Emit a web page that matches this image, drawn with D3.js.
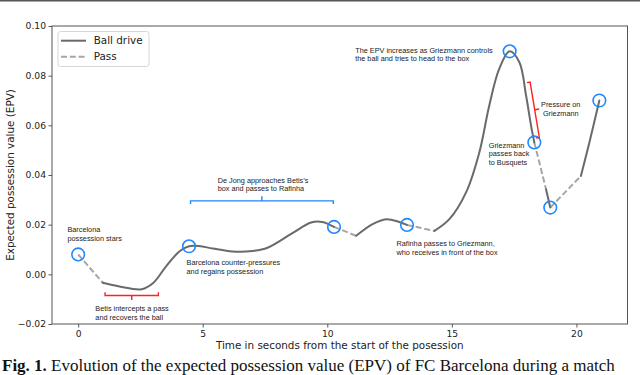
<!DOCTYPE html>
<html>
<head>
<meta charset="utf-8">
<script src="https://cdn.jsdelivr.net/npm/d3@7"></script>
<style>
    html, body { margin: 0; padding: 0; background: #fff; }
    svg { display: block; }
</style>
</head>
<body>
<div id="chart"></div>
<script>
// ===========================
// EPV of one Barcelona possession — ball drives (solid) and passes (dashed)
// ===========================

// ── Data (time in seconds, EPV) ───────────────────────────────────────────────
const driveSegments = [
    [[0.99, -0.0034], [1.66, -0.0049], [2.55, -0.006], [3.0, -0.0036], [3.53, 0.0032], [4.07, 0.0093],
     [4.45, 0.0113], [4.85, 0.0114], [5.4, 0.0104], [6.2, 0.0092], [7.0, 0.0094], [7.6, 0.0107],
     [8.6, 0.0166], [9.35, 0.0209], [9.8, 0.0211], [10.27, 0.0191]],
    [[11.16, 0.0155], [11.82, 0.0202], [12.36, 0.0222], [12.89, 0.0211], [13.2, 0.0199]],
    [[14.3, 0.0175], [14.9, 0.0222], [15.57, 0.033], [16.1, 0.049], [16.5, 0.0679], [16.9, 0.0827],
     [17.32, 0.0898], [17.71, 0.0854], [17.98, 0.0719], [18.18, 0.0598], [18.31, 0.0531]],
    [[18.78, 0.0343], [18.95, 0.0269]],
    [[20.18, 0.0396], [20.52, 0.0531], [20.92, 0.070]]
];

const passSegments = [
    [[0, 0.008], [0.99, -0.0034]],
    [[10.27, 0.0191], [11.16, 0.0155]],
    [[13.2, 0.0199], [14.3, 0.0175]],
    [[18.31, 0.0531], [18.78, 0.0343]],
    [[18.95, 0.0269], [20.18, 0.0396]]
];

const eventTimes  = [0, 4.45, 10.27, 13.2, 17.32, 18.31, 18.95, 20.92];
const eventValues = [0.008, 0.0113, 0.0191, 0.0199, 0.0898, 0.0531, 0.0269, 0.070];

const xTicks = [0, 5, 10, 15, 20];
const yTicks = [-0.02, 0.00, 0.02, 0.04, 0.06, 0.08, 0.10];

// Text notes: lines, anchor point (time, EPV of first line), alignment
const noteLines = [
    ['Barcelona', 'possession stars'],
    ['Betis intercepts a pass', 'and recovers the ball'],
    ['Barcelona counter-pressures', 'and regains possession'],
    ['De Jong approaches Betis\u2019s', 'box and passes to Rafinha'],
    ['Rafinha passes to Griezmann,', 'who receives in front of the box'],
    ['The EPV increases as Griezmann controls', 'the ball and tries to head to the box'],
    ['Griezmann', 'passes back', 'to Busquets'],
    ['Pressure on', 'Griezmann']
];
const noteTimes  = [-0.43, 0.69, 4.35, 5.6, 12.78, 11.12, 16.48, 19.37];
const noteValues = [0.0179, -0.0137, 0.0047, 0.0380, 0.0124, 0.0903, 0.0521, 0.0685];
const noteAnchor = ['start', 'start', 'start', 'start', 'start', 'start', 'start', 'middle'];

// Brackets: start / end (time, EPV), colour, side of the end ticks
const bracketStart = [[1.08, -0.0085], [4.51, 0.0296], [18.14, 0.0774]];
const bracketEnd   = [[3.22, -0.0085], [10.24, 0.0296], [18.51, 0.0551]];
const bracketColor = ['#ff2020', '#1e88ff', '#ff2020'];
const bracketSide  = [-1, 1, 1];

// ── Layout ────────────────────────────────────────────────────────────────────
const width = 640, height = 375;
const plot = { left: 52, right: 627.5, top: 26, bottom: 324 };

const svg = d3.select('#chart')
    .append('svg')
    .attr('width', width)
    .attr('height', height);

// rule at top edge of the page crop
svg.append('rect')
    .attr('x', 0).attr('y', 0)
    .attr('width', width).attr('height', 1.5)
    .attr('fill', '#555');

// ── Scales ────────────────────────────────────────────────────────────────────
const xScale = d3.scaleLinear().domain([-1.05, 22.05]).range([plot.left, plot.right]);
const yScale = d3.scaleLinear().domain([-0.02, 0.10]).range([plot.bottom, plot.top]);

// ── Axes ──────────────────────────────────────────────────────────────────────
const axisFont = 'DejaVu Sans, sans-serif';

const xAxis = svg.append('g')
    .attr('transform', `translate(0,${plot.bottom})`)
    .call(d3.axisBottom(xScale).tickValues(xTicks).tickSize(3.5).tickPadding(3).tickFormat(d3.format('d')));

const yAxis = svg.append('g')
    .attr('transform', `translate(${plot.left},0)`)
    .call(d3.axisLeft(yScale).tickValues(yTicks).tickSize(3.5).tickPadding(2.5).tickFormat(d3.format('.2f')));

[xAxis, yAxis].forEach(ax => {
    ax.select('.domain').remove();
    ax.selectAll('line').attr('stroke', '#444').attr('stroke-width', 0.9);
    ax.selectAll('text')
        .style('font-family', axisFont)
        .style('font-size', '9.2px')
        .attr('fill', '#222');
});

// frame
svg.append('rect')
    .attr('x', plot.left).attr('y', plot.top)
    .attr('width', plot.right - plot.left)
    .attr('height', plot.bottom - plot.top)
    .attr('fill', 'none')
    .attr('stroke', '#555')
    .attr('stroke-width', 1);

svg.append('text')
    .attr('x', (plot.left + plot.right) / 2)
    .attr('y', 349)
    .attr('text-anchor', 'middle')
    .style('font-family', axisFont)
    .style('font-size', '10.4px')
    .attr('fill', '#222')
    .text('Time in seconds from the start of the posession');

svg.append('text')
    .attr('transform', 'rotate(-90)')
    .attr('x', -(plot.top + plot.bottom) / 2)
    .attr('y', 13.5)
    .attr('text-anchor', 'middle')
    .style('font-family', axisFont)
    .style('font-size', '10.4px')
    .attr('fill', '#222')
    .text('Expected possession value (EPV)');

// ── Curves ────────────────────────────────────────────────────────────────────
const line = d3.line()
    .x(d => xScale(d[0]))
    .y(d => yScale(d[1]))
    .curve(d3.curveCatmullRom.alpha(0.5));

svg.append('g').selectAll('path')
    .data(passSegments)
    .join('path')
    .attr('d', line)
    .attr('fill', 'none')
    .attr('stroke', '#a6a6a6')
    .attr('stroke-width', 2)
    .attr('stroke-dasharray', '6,2.8');

svg.append('g').selectAll('path')
    .data(driveSegments)
    .join('path')
    .attr('d', line)
    .attr('fill', 'none')
    .attr('stroke', '#6a6a6a')
    .attr('stroke-width', 2)
    .attr('stroke-linecap', 'round');

// event markers
svg.append('g').selectAll('circle')
    .data(eventTimes.map((t, i) => [t, eventValues[i]]))
    .join('circle')
    .attr('cx', d => xScale(d[0]))
    .attr('cy', d => yScale(d[1]))
    .attr('r', 6.3)
    .attr('fill', 'none')
    .attr('stroke', '#1e88ff')
    .attr('stroke-width', 1.6);

// ── Brackets ──────────────────────────────────────────────────────────────────
bracketStart.forEach((s, i) => {
    const e = bracketEnd[i];
    const x1 = xScale(s[0]), y1 = yScale(s[1]);
    const x2 = xScale(e[0]), y2 = yScale(e[1]);
    const len = Math.hypot(x2 - x1, y2 - y1);
    const dx = (x2 - x1) / len, dy = (y2 - y1) / len;
    const nx = -dy * bracketSide[i], ny = dx * bracketSide[i];
    const endTick = 3.2, midTick = 4.6;
    const mx = (x1 + x2) / 2, my = (y1 + y2) / 2;
    const p = d3.path();
    p.moveTo(x1 + nx * endTick, y1 + ny * endTick);
    p.lineTo(x1, y1);
    p.lineTo(x2, y2);
    p.lineTo(x2 + nx * endTick, y2 + ny * endTick);
    p.moveTo(mx, my);
    p.lineTo(mx - nx * midTick, my - ny * midTick);
    svg.append('path')
        .attr('d', p.toString())
        .attr('fill', 'none')
        .attr('stroke', bracketColor[i])
        .attr('stroke-width', 1.4);
});

// ── Notes ─────────────────────────────────────────────────────────────────────
noteLines.forEach((lines, i) => {
    const txt = svg.append('text')
        .attr('text-anchor', noteAnchor[i])
        .style('font-family', 'Liberation Sans, Arial, sans-serif')
        .style('font-size', '7.3px')
        .attr('fill', '#222');
    lines.forEach((l, j) => {
        txt.append('tspan')
            .attr('x', xScale(noteTimes[i]))
            .attr('y', yScale(noteValues[i]) + j * 8.8)
            .attr('dy', '0.35em')
            .text(l);
    });
});

// ── Legend ────────────────────────────────────────────────────────────────────
const legend = svg.append('g').attr('transform', 'translate(58,31.5)');
legend.append('rect')
    .attr('width', 91).attr('height', 35)
    .attr('rx', 2.5)
    .attr('fill', '#fff')
    .attr('stroke', '#d6d6d6')
    .attr('stroke-width', 1);

const legendItems = [
    { label: 'Ball drive', color: '#6a6a6a', dash: null },
    { label: 'Pass', color: '#a6a6a6', dash: '6,2.8' }
];
legendItems.forEach((item, i) => {
    const y = 9.2 + i * 16;
    legend.append('line')
        .attr('x1', 3).attr('x2', 28)
        .attr('y1', y).attr('y2', y)
        .attr('stroke', item.color)
        .attr('stroke-width', 2)
        .attr('stroke-dasharray', item.dash);
    legend.append('text')
        .attr('x', 35.7).attr('y', y)
        .attr('dy', '0.35em')
        .style('font-family', axisFont)
        .style('font-size', '10.4px')
        .attr('fill', '#222')
        .text(item.label);
});

// ── Caption (sits on the bottom edge) ────────────────────────────────────────
const caption = svg.append('text')
    .attr('x', 2)
    .attr('y', 370.5)
    .style('font-family', 'Liberation Serif, Times New Roman, serif')
    .style('font-size', '17px')
    .attr('fill', '#111');
caption.append('tspan').style('font-weight', 'bold').text('Fig. 1.');
caption.append('tspan').text(' Evolution of the expected possession value (EPV) of FC Barcelona during a match');
</script>
</body>
</html>
